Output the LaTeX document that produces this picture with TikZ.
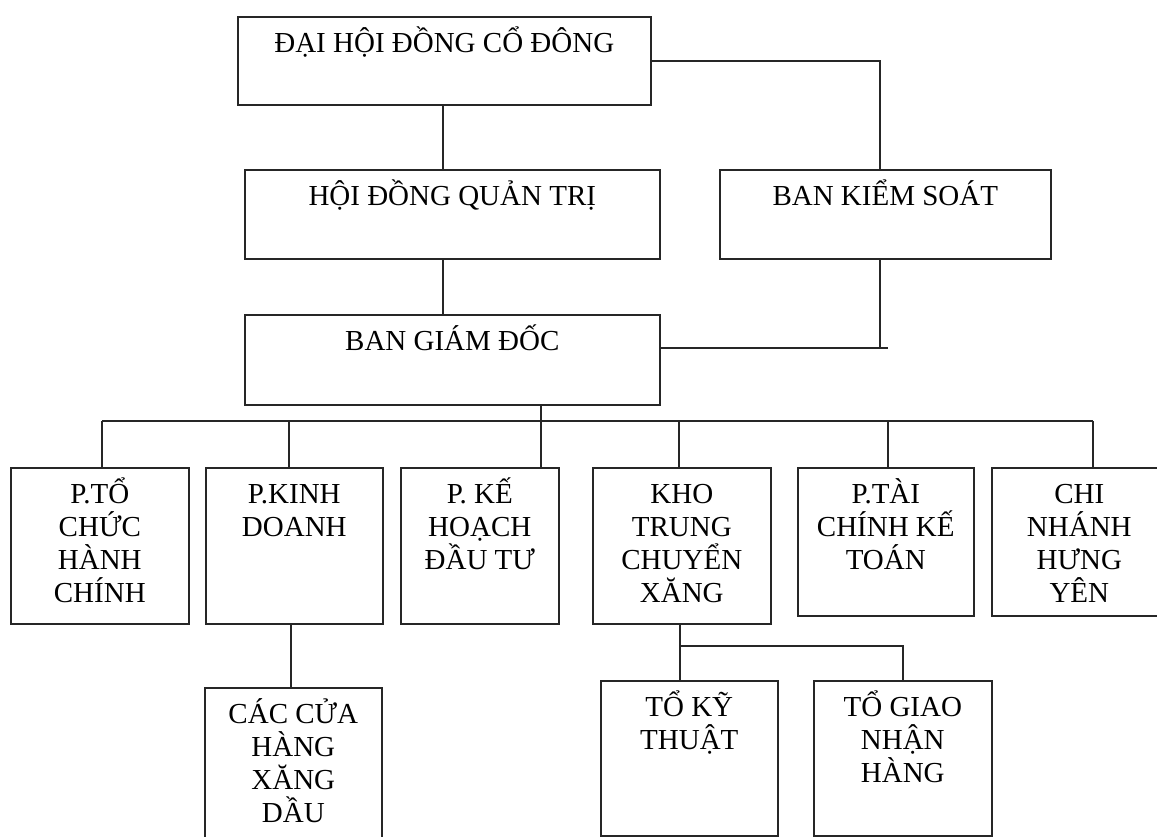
\documentclass[tikz,border=0pt]{standalone}
\usepackage{fontspec}
\setmainfont{Liberation Serif}
\usetikzlibrary{positioning}
\newcommand{\orgtext}[3]{\parbox[t][#2][t]{#1}{\lineskiplimit=-20pt\centering\rule{0pt}{36pt}#3}}
\tikzset{
  orgbox/.style={
    draw=black!85,
    fill=white,
    line width=1.6pt,
    inner sep=0pt,
    anchor=north west,
    font=\fontsize{29}{33}\selectfont
  },
  orgline/.style={draw=black!85,line width=1.5pt}
}
\begin{document}
\begin{tikzpicture}[x=1pt,y=-1pt]
\useasboundingbox (0,0) rectangle (1157,837);
\node[orgbox] (dhdcd) at (237,16) {\orgtext{413pt}{88pt}{ĐẠI HỘI ĐỒNG CỔ ĐÔNG}};
\node[orgbox] (hdqt) at (244,169) {\orgtext{415pt}{89pt}{HỘI ĐỒNG QUẢN TRỊ}};
\node[orgbox] (bks) at (719,169) {\orgtext{331pt}{89pt}{BAN KIỂM SOÁT}};
\node[orgbox] (bgd) at (244,314) {\orgtext{415pt}{90pt}{BAN GIÁM ĐỐC}};
\node[orgbox] (ptc) at (10,467) {\orgtext{178pt}{156pt}{P.TỔ\\CHỨC\\HÀNH\\CHÍNH}};
\node[orgbox] (pkd) at (205,467) {\orgtext{177pt}{156pt}{P.KINH\\DOANH}};
\node[orgbox] (pkh) at (400,467) {\orgtext{158pt}{156pt}{P. KẾ\\HOẠCH\\ĐẦU TƯ}};
\node[orgbox] (kho) at (592,467) {\orgtext{178pt}{156pt}{KHO\\TRUNG\\CHUYỂN\\XĂNG}};
\node[orgbox] (ptckt) at (797,467) {\orgtext{176pt}{148pt}{P.TÀI\\CHÍNH KẾ\\TOÁN}};
\node[orgbox] (cnhy) at (991,467) {\orgtext{175pt}{148pt}{CHI\\NHÁNH\\HƯNG\\YÊN}};
\node[orgbox] (cch) at (204,687) {\orgtext{177pt}{170pt}{CÁC CỬA\\HÀNG\\XĂNG\\DẦU}};
\node[orgbox] (tkt) at (600,680) {\orgtext{177pt}{155pt}{TỔ KỸ\\THUẬT}};
\node[orgbox] (tgn) at (813,680) {\orgtext{178pt}{155pt}{TỔ GIAO\\NHẬN\\HÀNG}};
\coordinate (trunk) at (443,60);
\coordinate (kdtap) at (291,650);
\coordinate (kstap) at (880,348);
\coordinate (ksend) at (888,348);
\coordinate (busL) at (102,421);
\coordinate (busR) at (1093,421);
\coordinate (busC) at (541,421);
\coordinate (ksplit) at (680,646);
\draw[orgline] (trunk |- dhdcd.south) -- (trunk |- hdqt.north);
\draw[orgline] (trunk |- hdqt.south) -- (trunk |- bgd.north);
\draw[orgline] (dhdcd.east) -| (kstap |- bks.north);
\draw[orgline] (kstap |- bks.south) -- (kstap);
\draw[orgline] (bgd.east |- ksend) -- (ksend);
\draw[orgline] (busC |- bgd.south) -- (busC);
\draw[orgline] (busL) -- (busR);
\foreach \b/\x in {ptc/102,pkd/289,pkh/541,kho/679,ptckt/888,cnhy/1093}
  \draw[orgline] (busL -| \x,0) -- (\b.north -| \x,0);
\draw[orgline] (kdtap |- pkd.south) -- (kdtap |- cch.north);
\draw[orgline] (ksplit |- kho.south) -- (ksplit |- tkt.north);
\draw[orgline] (ksplit) -| (tgn.north);
\end{tikzpicture}
\end{document}
